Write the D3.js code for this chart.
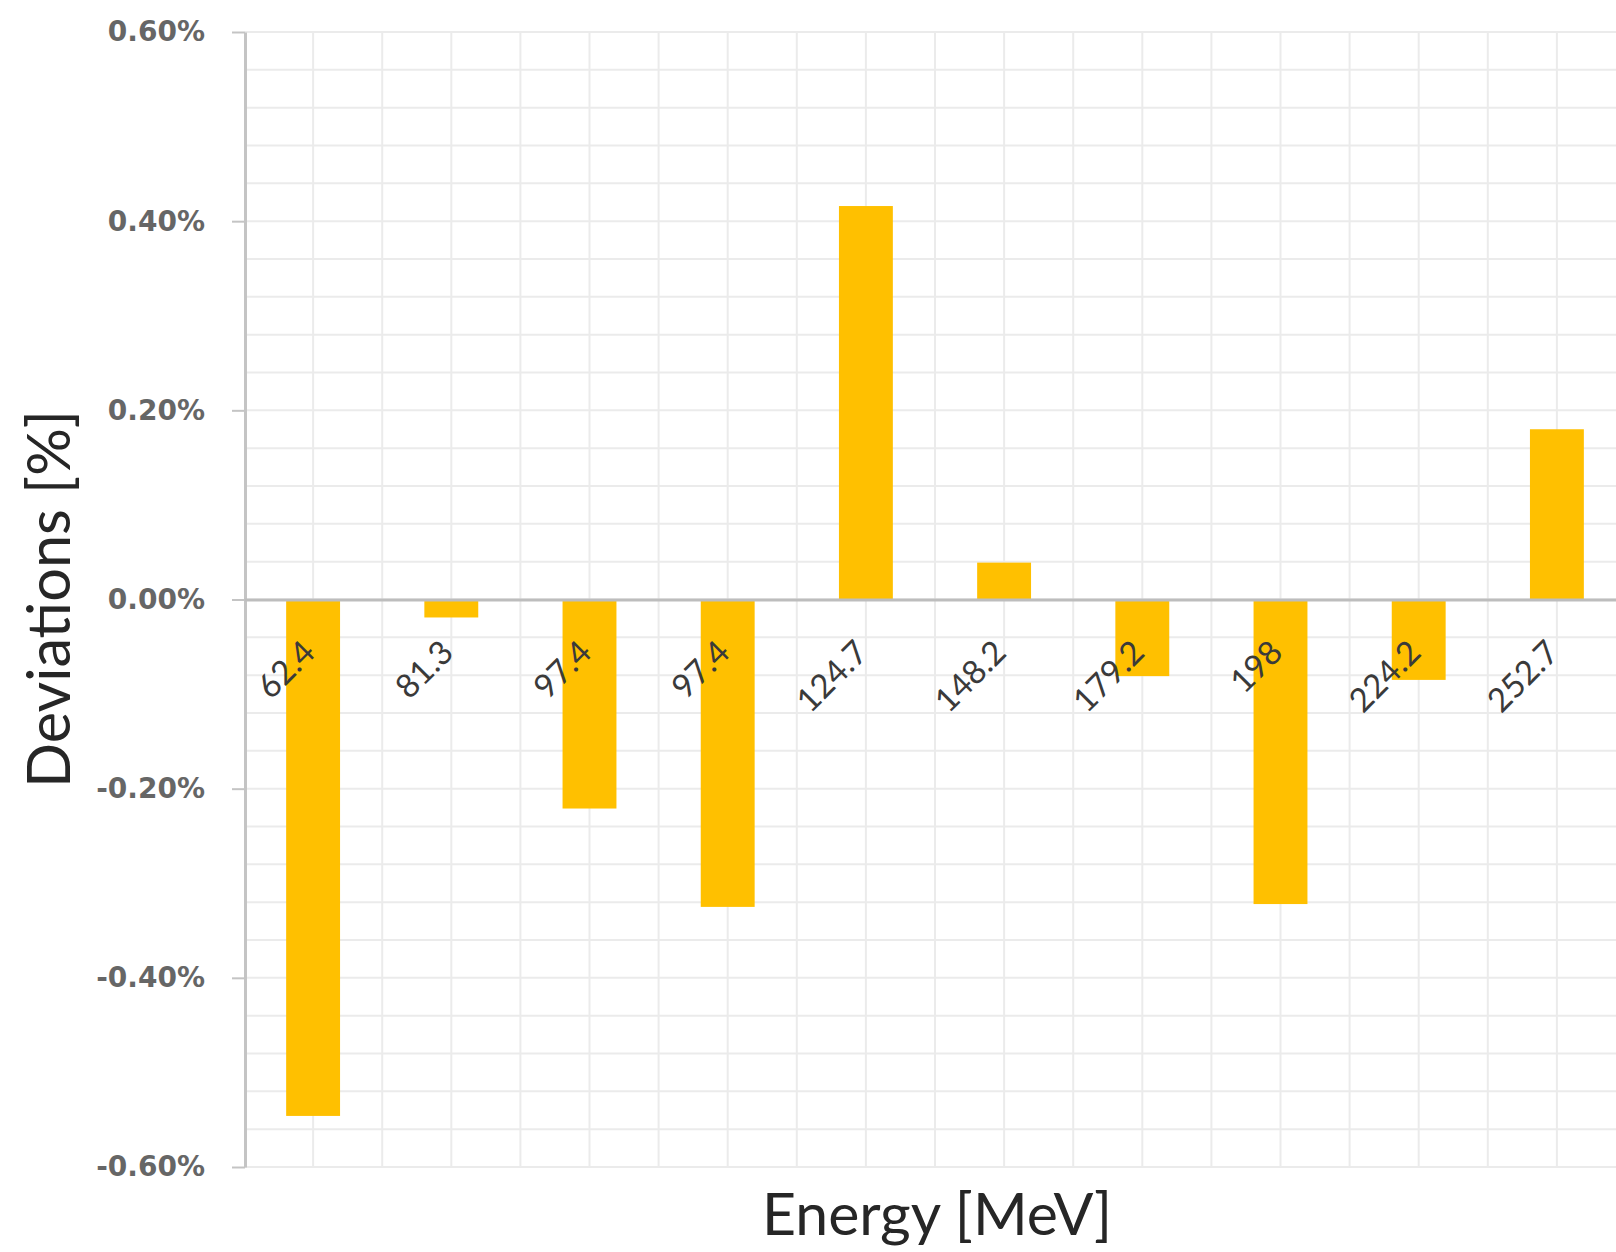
<!DOCTYPE html>
<html><head><meta charset="utf-8">
<script src="https://cdn.jsdelivr.net/npm/d3@7"></script>
<style>body{margin:0;background:#fff}svg{display:block}</style>
</head><body>
<svg id="chart" width="1616" height="1252"></svg>
<script>
const categories = ["62.4","81.3","97.4","97.4","124.7","148.2","179.2","198","224.2","252.7"];
const deviations = [-0.546,-0.019,-0.221,-0.325,0.416,0.039,-0.081,-0.322,-0.085,0.180];
const yTicks = [0.6,0.4,0.2,0,-0.2,-0.4,-0.6];
const xTitle = "Energy [MeV]";
const yTitle = "Deviations [%]";

const svg = d3.select("#chart");
svg.append("rect").attr("width",1616).attr("height",1252).attr("fill","#fff");

const x = d3.scaleBand().domain(d3.range(categories.length)).range([244,1626])
  .paddingInner(0.61).paddingOuter(0.305);
const y = d3.scaleLinear().domain([-0.6,0.6]).range([1167,32]);

// gridlines
const grid = svg.append("g");
const hGrid = d3.range(-0.6,0.6001,0.04);
grid.selectAll("line.h").data(hGrid).join("line")
  .attr("x1",245).attr("x2",1616).attr("y1",d=>y(d)).attr("y2",d=>y(d))
  .attr("stroke","#ebebeb").attr("stroke-width",2);
const step = x.step();
const vGrid = [];
categories.forEach((c,i)=>{ vGrid.push(x(i)+x.bandwidth()/2); vGrid.push(x(i)+x.bandwidth()/2+step/2); });
grid.selectAll("line.v").data(vGrid).join("line")
  .attr("x1",d=>d).attr("x2",d=>d).attr("y1",32).attr("y2",1167)
  .attr("stroke","#ebebeb").attr("stroke-width",2);

// bars
svg.append("g").selectAll("rect").data(deviations).join("rect")
  .attr("x",(d,i)=>x(i)).attr("width",x.bandwidth())
  .attr("y",d=>Math.min(y(d),y(0))).attr("height",d=>Math.abs(y(d)-y(0)))
  .attr("fill","#FFC000");

// y axis
const yAxis = svg.append("g").attr("transform","translate(245,0)")
  .call(d3.axisLeft(y).tickValues(yTicks).tickSize(13).tickSizeOuter(0).tickPadding(27)
    .tickFormat(d=>(d3.format(".2f")(d)+"%").replace("\u2212","-")));
yAxis.select(".domain").attr("stroke","#c4c4c4").attr("stroke-width",3);
yAxis.selectAll(".tick line").attr("stroke","#c4c4c4").attr("stroke-width",2);
yAxis.selectAll(".tick text").attr("font-family","DejaVu Sans").attr("font-size",28)
  .attr("font-weight","bold").attr("fill","#666666");

// x axis at zero
const xAxis = svg.append("g").attr("transform",`translate(0,${y(0)})`)
  .call(d3.axisBottom(x).tickSize(0).tickSizeOuter(0).tickFormat(i=>categories[i]));
xAxis.select(".domain").attr("stroke","#bdbdbd").attr("stroke-width",3);
xAxis.selectAll(".tick text").attr("font-family","Lato").attr("font-size",33)
  .attr("fill","#3a3a3a").attr("text-anchor","end")
  .attr("x",0).attr("y",0).attr("dy",0)
  .attr("transform","translate(4,55) rotate(-45)");

// titles
function fitText(sel, target){
  const base = 100;
  sel.attr("font-size",base);
  const w = sel.node().getComputedTextLength();
  sel.attr("font-size", base*target/w);
}
const xt = svg.append("text").text(xTitle).attr("x",937).attr("y",1235)
  .attr("text-anchor","middle").attr("font-family","Lato").attr("fill","#262626");
fitText(xt,350);
const yt = svg.append("text").text(yTitle).attr("transform","translate(70,599) rotate(-90)")
  .attr("text-anchor","middle").attr("font-family","Lato").attr("fill","#262626");
fitText(yt,378);
</script>
</body></html>
